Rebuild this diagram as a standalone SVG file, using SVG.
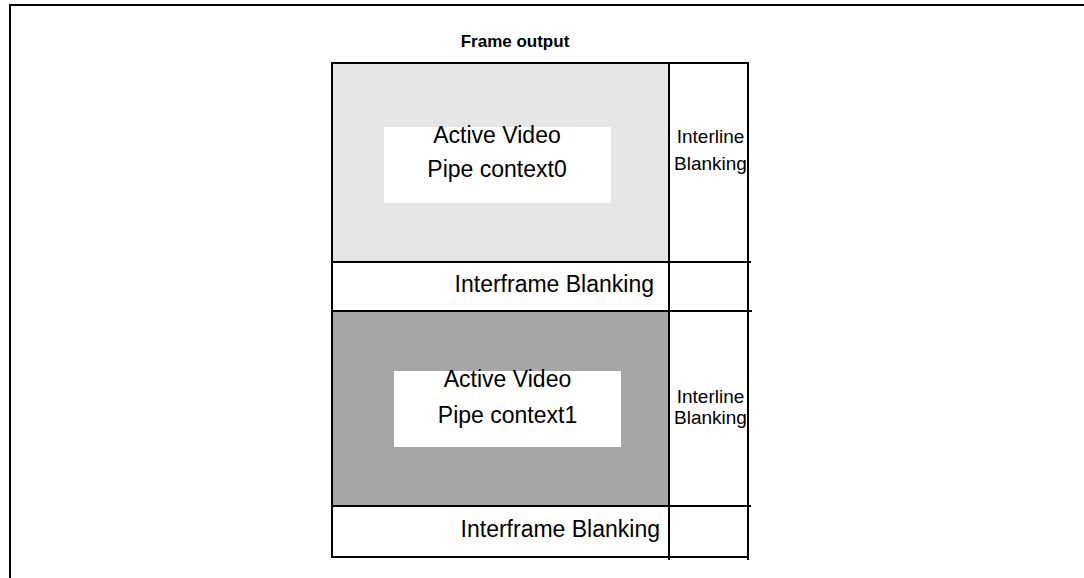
<svg xmlns="http://www.w3.org/2000/svg" width="1084" height="578" viewBox="0 0 1084 578">
<style>
.t{font-family:"Liberation Sans",Arial,sans-serif;fill:#000}
.big{font-size:23px}
.sm{font-size:19px}
.ln{stroke:#000;stroke-width:2;fill:none}
</style>
<rect x="0" y="0" width="1084" height="578" fill="#fff"/>
<g id="outer-frame">
<path class="ln" d="M10,578 V5 H1084"/>
</g>
<g id="title">
<text class="t" x="515" y="47" font-size="17" font-weight="bold" text-anchor="middle">Frame output</text>
</g>
<g id="active-video-0">
<rect x="332" y="63" width="337" height="199" fill="#e5e5e5"/>
<rect x="384" y="127" width="227" height="76" fill="#fff"/>
<text class="t big" x="497" y="142.7" text-anchor="middle">Active Video</text>
<text class="t big" x="497" y="176.7" text-anchor="middle">Pipe context0</text>
</g>
<g id="interline-0">
<text class="t sm" x="710.5" y="143.3" text-anchor="middle">Interline</text>
<text class="t sm" x="710.5" y="169.5" text-anchor="middle">Blanking</text>
</g>
<g id="interframe-0">
<text class="t big" x="654" y="292.3" text-anchor="end">Interframe Blanking</text>
</g>
<g id="active-video-1">
<rect x="332" y="311" width="337" height="195" fill="#a6a6a6"/>
<rect x="394" y="371" width="227" height="76" fill="#fff"/>
<text class="t big" x="507.5" y="387.3" text-anchor="middle">Active Video</text>
<text class="t big" x="507.5" y="422.7" text-anchor="middle">Pipe context1</text>
</g>
<g id="interline-1">
<text class="t sm" x="710.5" y="403.3" text-anchor="middle">Interline</text>
<text class="t sm" x="710.5" y="424" text-anchor="middle">Blanking</text>
</g>
<g id="interframe-1">
<text class="t big" x="660" y="536.7" text-anchor="end">Interframe Blanking</text>
</g>
<g id="connectors">
<path class="ln" d="M331,63 H749"/>
<path class="ln" d="M331,262 H751"/>
<path class="ln" d="M331,311 H752"/>
<path class="ln" d="M331,506 H751"/>
<path class="ln" d="M331,557 H749"/>
<path class="ln" d="M332,62 V558"/>
<path class="ln" d="M669,62 V560"/>
<path class="ln" d="M748,62 V560"/>
</g>
</svg>
